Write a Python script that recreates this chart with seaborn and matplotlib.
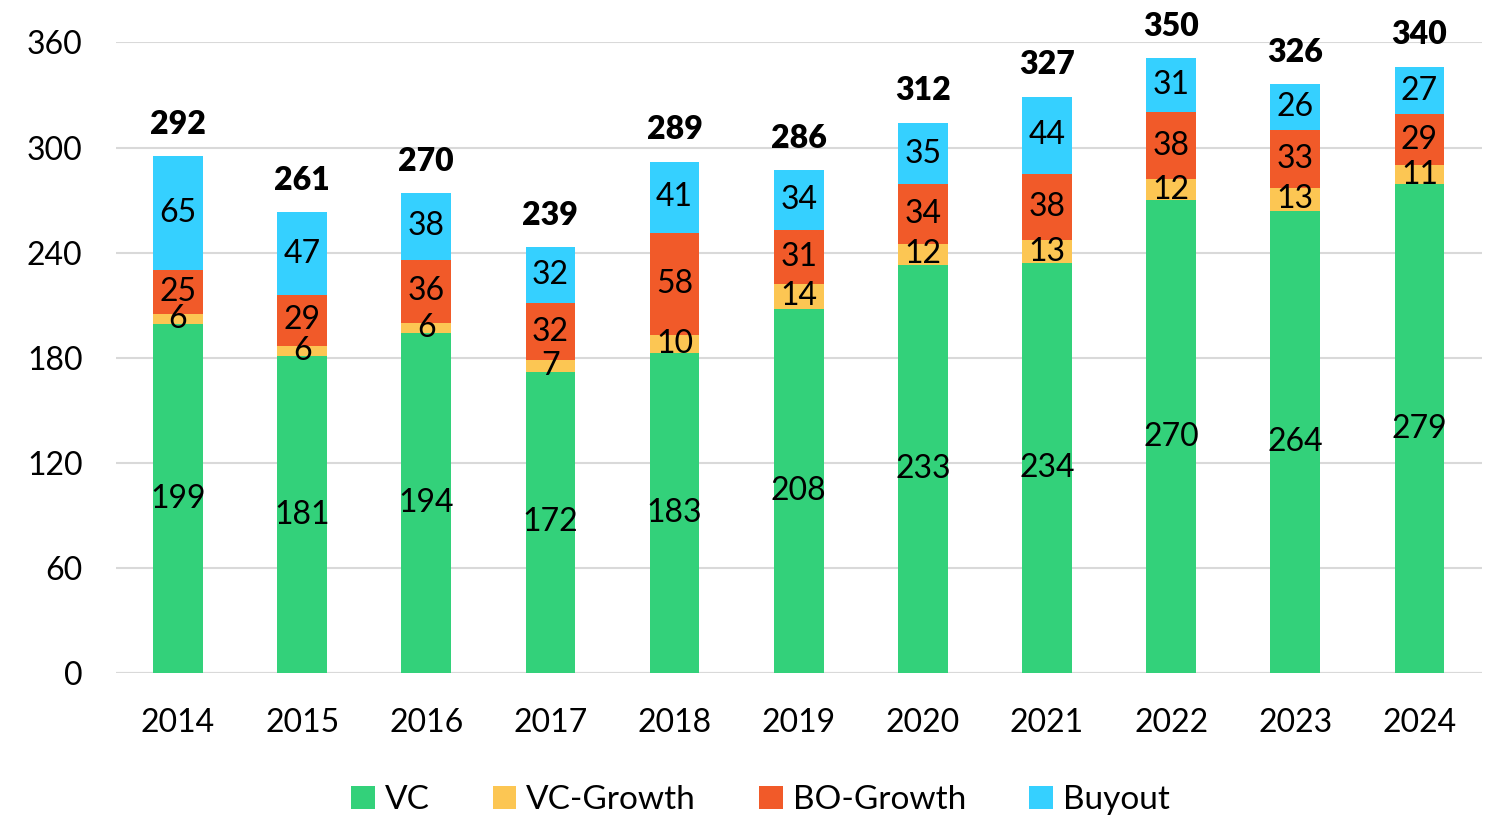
import numpy as np
import pandas as pd
import matplotlib
matplotlib.use("Agg")
import matplotlib.pyplot as plt
import seaborn as sns

# data
years = ["2014", "2015", "2016", "2017", "2018", "2019", "2020", "2021", "2022", "2023", "2024"]
vc = [199, 181, 194, 172, 183, 208, 233, 234, 270, 264, 279]
vc_growth = [6, 6, 6, 7, 10, 14, 12, 13, 12, 13, 11]
bo_growth = [25, 29, 36, 32, 58, 31, 34, 38, 38, 33, 29]
buyout = [65, 47, 38, 32, 41, 34, 35, 44, 31, 26, 27]
totals = [292, 261, 270, 239, 289, 286, 312, 327, 350, 326, 340]

series = ["VC", "VC-Growth", "BO-Growth", "Buyout"]
colors = ["#33D17A", "#FCC653", "#F15A29", "#35D0FF"]

sns.set_theme(style="white")
plt.rcParams['font.family'] = ['Lato', 'DejaVu Sans']
plt.rcParams['text.color'] = 'black'
plt.rcParams['xtick.color'] = 'black'
plt.rcParams['ytick.color'] = 'black'

df = pd.DataFrame({"year": years, "VC": vc, "VC-Growth": vc_growth,
                   "BO-Growth": bo_growth, "Buyout": buyout})
cum = df[series].cumsum(axis=1)

fig, ax = plt.subplots(figsize=(14.86, 8.15), dpi=100)
fig.subplots_adjust(left=0.078, right=0.997, top=0.948, bottom=0.174)

# draw cumulative bars from the top layer down so they stack
for name, col in reversed(list(zip(series, colors))):
    sns.barplot(x=df["year"], y=cum[name], color=col, width=0.4,
                saturation=1, ax=ax, label=name, zorder=2, linewidth=0)

# segment labels
for i in range(len(years)):
    base = 0
    for name in series:
        v = df[name][i]
        ax.text(i, base + v / 2, str(v), ha="center", va="center",
                fontsize=23, color="black", zorder=3)
        base += v
    ax.text(i, base + 10, str(totals[i]), ha="center", va="bottom",
            fontsize=23, fontweight="heavy", color="black", clip_on=False)

ax.set_ylim(0, 360)
ax.set_xlim(-0.5, 10.5)
ax.set_yticks(np.arange(0, 361, 60))
ax.yaxis.grid(True, color="#D9D9D9", linewidth=1.5, zorder=0)
ax.set_axisbelow(True)
sns.despine(ax=ax, left=True, bottom=True)
ax.axhline(0, color="#D9D9D9", linewidth=1.5, zorder=1)
ax.set_xlabel("")
ax.set_ylabel("")
ax.tick_params(axis="y", length=0, labelsize=23, pad=24)
ax.tick_params(axis="x", length=0, labelsize=23, pad=25)

handles, labels = ax.get_legend_handles_labels()
order = [labels.index(s) for s in series]
leg = ax.legend([handles[k] for k in order], series, loc="upper center",
                bbox_to_anchor=(0.472, -0.13), ncol=4, frameon=False,
                fontsize=24, handlelength=0.7, handleheight=0.7,
                handletextpad=0.3, columnspacing=1.9)

fig.savefig("out.png", dpi=100)
